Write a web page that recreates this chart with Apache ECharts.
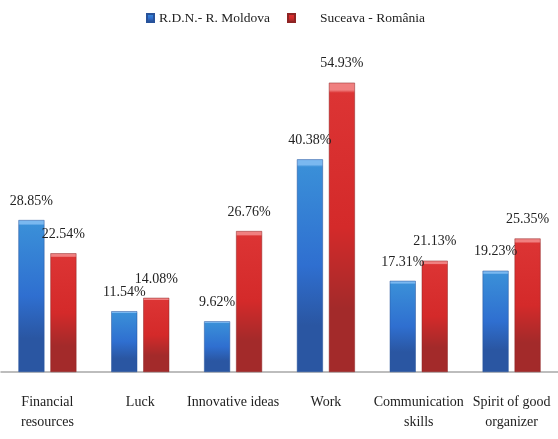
<!DOCTYPE html>
<html><head><meta charset="utf-8">
<script src="https://cdn.jsdelivr.net/npm/echarts@6/dist/echarts.min.js"></script>
<style>html,body{margin:0;padding:0;background:#fff}#c{width:558px;height:439px}</style>
</head><body><div id="c"></div>
<script>
const categories = ['Financial\nresources', 'Luck', 'Innovative ideas', 'Work', 'Communication\nskills', 'Spirit of good\norganizer'];
const seriesNames = ['R.D.N.- R. Moldova', 'Suceava - România'];
const moldova = [28.85, 11.54, 9.62, 40.38, 17.31, 19.23];
const suceava = [22.54, 14.08, 26.76, 54.93, 21.13, 25.35];

const font = '"Liberation Serif", "Times New Roman", serif';
function grad(c1, c2, c3, c4) {
  return new echarts.graphic.LinearGradient(0, 0, 0, 1, [
    {offset: 0, color: c1}, {offset: 0.025, color: c1},
    {offset: 0.035, color: c2}, {offset: 0.5, color: c3},
    {offset: 0.78, color: c4}, {offset: 1, color: c4}
  ]);
}
const chart = echarts.init(document.getElementById('c'));
chart.setOption({
  animation: false,
  legend: {
    top: 6, left: 141,
    itemWidth: 7, itemHeight: 8, itemGap: 17,
    icon: 'rect',
    textStyle: {fontFamily: font, fontSize: 13.5, color: '#222'},
    data: [
      {name: seriesNames[0]},
      {name: seriesNames[1], textStyle: {padding: [0, 0, 0, 20]}}
    ]
  },
  grid: {left: 1, right: -9, top: 56, bottom: 67, containLabel: false},
  xAxis: {
    type: 'category', data: categories,
    axisLine: {lineStyle: {color: '#a8a8a8', width: 1.5}},
    axisTick: {show: false},
    axisLabel: {fontFamily: font, fontSize: 14, color: '#222', margin: 20, lineHeight: 20, interval: 0}
  },
  yAxis: {type: 'value', min: 0, max: 60, show: false, splitLine: {show: false}},
  series: [
    {
      name: seriesNames[0], type: 'bar', data: moldova,
      barWidth: 26, barGap: '23%',
      itemStyle: {color: grad('#7ab8f0', '#3a8fd8', '#2f6fd0', '#2a56a2'), borderColor: '#27529a', borderWidth: 0.5},
      label: {show: true, position: 'top', distance: 12, formatter: p => p.value.toFixed(2) + '%', fontFamily: font, fontSize: 14, color: '#222'}
    },
    {
      name: seriesNames[1], type: 'bar', data: suceava,
      barWidth: 26,
      itemStyle: {color: grad('#f08080', '#dc3434', '#d42a2a', '#a32a2a'), borderColor: '#8e2424', borderWidth: 0.5},
      label: {show: true, position: 'top', distance: 12, formatter: p => p.value.toFixed(2) + '%', fontFamily: font, fontSize: 14, color: '#222'}
    }
  ]
});
</script></body></html>
